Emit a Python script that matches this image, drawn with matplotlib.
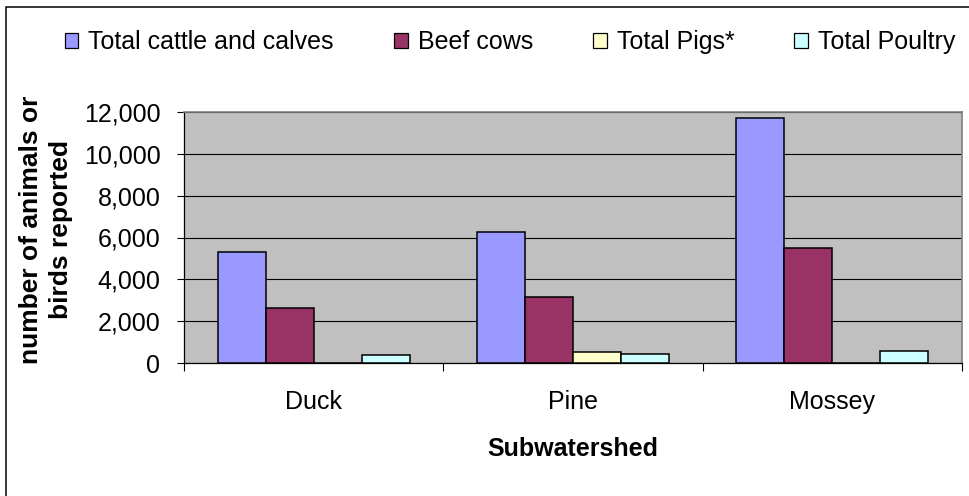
import numpy as np
import matplotlib
matplotlib.use("Agg")
import matplotlib.pyplot as plt
from matplotlib.patches import Patch, Rectangle
from matplotlib.ticker import FuncFormatter

plt.rcParams['font.family'] = ['Liberation Sans', 'DejaVu Sans']

# numar de animale raportate pe subbazin
subbazine = ['Duck', 'Pine', 'Mossey']
serii = ['Total cattle and calves', 'Beef cows', 'Total Pigs*', 'Total Poultry']
bovine_total = [5310, 6280, 11710]
vaci_carne = [2650, 3140, 5520]
porci_total = [0, 560, 0]
pasari_total = [380, 460, 570]
y_ticks = [0, 2000, 4000, 6000, 8000, 10000, 12000]

culori = ['#9999FF', '#993366', '#FFFFCC', '#CCFFFF']
valori = [bovine_total, vaci_carne, porci_total, pasari_total]

W, H = 969, 496
fig = plt.figure(figsize=(W / 100, H / 100), dpi=100)
ax = fig.add_axes([184 / W, 1 - 363.3 / H, (962 - 184) / W, (363.3 - 111.7) / H])
ax.set_facecolor('#C0C0C0')

x = np.arange(len(subbazine))
latime = 0.185
for i, (vals, c) in enumerate(zip(valori, culori)):
    ax.bar(x + (i - 1.5) * latime, vals, width=latime, color=c,
           edgecolor='black', linewidth=1.1, zorder=3)

ax.set_xlim(-0.5, len(subbazine) - 0.5)
ax.set_ylim(0, 12000)
ax.set_yticks(y_ticks)
ax.yaxis.set_major_formatter(FuncFormatter(lambda v, p: f'{int(v):,}'))
ax.yaxis.grid(True, color='black', linewidth=0.8, zorder=1)
ax.set_axisbelow(True)

# liniile de diviziune intre categorii, etichetele la mijloc
ax.set_xticks(np.arange(-0.5, len(subbazine), 1.0))
ax.set_xticklabels([])
ax.set_xticks(x, minor=True)
ax.set_xticklabels(subbazine, minor=True)
ax.tick_params(axis='x', which='major', direction='out', length=6, width=0.8, color='black')
ax.tick_params(axis='x', which='minor', length=0, pad=19, labelsize=18)
ax.tick_params(axis='y', direction='out', length=5, width=0.8, pad=12, labelsize=18)

for s in ['top', 'right']:
    ax.spines[s].set_color('#808080')
    ax.spines[s].set_linewidth(1.2)
for s in ['left', 'bottom']:
    ax.spines[s].set_color('black')
    ax.spines[s].set_linewidth(0.9)

fig.text(573 / W, 1 - 456 / H, 'Subwatershed', ha='center', va='baseline',
         fontsize=18, fontweight='bold')
fig.text(46 / W, 1 - 230 / H, 'number of animals or\nbirds reported', rotation=90,
         ha='center', va='center', multialignment='center',
         fontsize=19, fontweight='bold', linespacing=1.3)

handles = [Patch(facecolor=c, edgecolor='black', linewidth=0.9) for c in culori]
fig.legend(handles, serii, loc='center', bbox_to_anchor=(510 / W, 1 - 42 / H),
           ncol=4, frameon=False, fontsize=18, handlelength=0.55, handleheight=0.55,
           handletextpad=0.4, columnspacing=2.4, borderaxespad=0)

# chenarul graficului
fig.add_artist(Rectangle((6 / W, -0.1), 1.2, 1.1 - 7 / H, transform=fig.transFigure,
                         fill=False, edgecolor='black', linewidth=1.1))

fig.savefig('out.png', dpi=100)
